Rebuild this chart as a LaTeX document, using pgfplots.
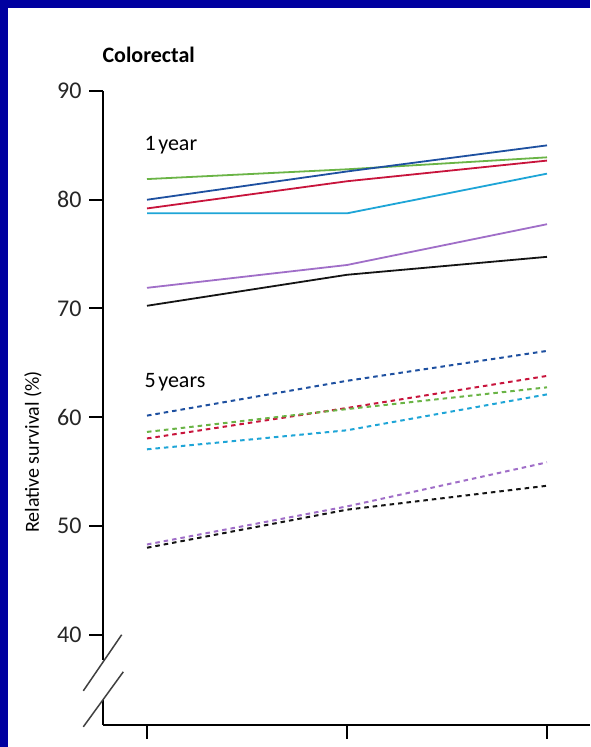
\documentclass[border=0pt]{standalone}
\usepackage{fontspec}
\setmainfont{Carlito}
\usepackage{pgfplots}
\pgfplotsset{compat=1.18}
\definecolor{bord}{RGB}{0,0,160}
\definecolor{cgreen}{RGB}{106,180,70}
\definecolor{cblue}{RGB}{30,80,160}
\definecolor{cred}{RGB}{200,20,60}
\definecolor{ccyan}{RGB}{30,165,215}
\definecolor{cpurple}{RGB}{160,110,200}
\definecolor{cblack}{RGB}{20,20,20}
\begin{document}
\begin{tikzpicture}[x=1pt,y=1pt]
\useasboundingbox (0,0) rectangle (590,747);
\fill[bord] (0,0) rectangle (590,747);
\fill[white] (8,0) rectangle (590,739);
\node[anchor=west,font=\fontsize{22}{26}\selectfont\bfseries] at (99,692) {Colorectal};
\node[rotate=90,font=\fontsize{20}{24}\selectfont] at (33,295) {Relative survival (\%)};
\begin{axis}[
 at={(103pt,22pt)}, anchor=south west, scale only axis,
 width=487pt, height=634pt,
 xmin=-0.22, xmax=2.215, ymin=31.7, ymax=90,
 axis x line=bottom, axis y line=left,
 axis line style={-},
 y axis line style={draw=none},
 x axis line style={line width=2pt},
 xtick={0,1,2}, xticklabels={},
 ytick={40,50,60,70,80,90},
 tick align=outside, major tick length=14pt,
 every tick/.style={line width=2pt, black},
 ticklabel style={font=\fontsize{24}{28}\selectfont, text=black!85},
 yticklabel style={xshift=-4pt},
 /pgf/number format/assume math mode=true,
 clip=false,
]
% 1 year (solid)
\addplot[cgreen, line width=1.8pt] coordinates {(0,81.9) (1,82.8) (2,83.9)};
\addplot[cblue, line width=1.8pt] coordinates {(0,80.0) (1,82.6) (2,85.0)};
\addplot[cred, line width=1.8pt] coordinates {(0,79.2) (1,81.7) (2,83.6)};
\addplot[ccyan, line width=1.8pt] coordinates {(0,78.75) (1,78.75) (2,82.4)};
\addplot[cpurple, line width=1.8pt] coordinates {(0,71.9) (1,74.0) (2,77.75)};
\addplot[cblack, line width=1.8pt] coordinates {(0,70.25) (1,73.1) (2,74.75)};
% 5 years (dashed)
\addplot[cblue, line width=2pt, dash pattern=on 4.5pt off 4pt] coordinates {(0,60.15) (1,63.35) (2,66.1)};
\addplot[cred, line width=2pt, dash pattern=on 4.5pt off 4pt] coordinates {(0,58.05) (1,60.85) (2,63.8)};
\addplot[cgreen, line width=2pt, dash pattern=on 4.5pt off 4pt] coordinates {(0,58.65) (1,60.75) (2,62.75)};
\addplot[ccyan, line width=2pt, dash pattern=on 4.5pt off 4pt] coordinates {(0,57.05) (1,58.8) (2,62.1)};
\addplot[cpurple, line width=2pt, dash pattern=on 4.5pt off 4pt] coordinates {(0,48.3) (1,51.8) (2,55.85)};
\addplot[cblack, line width=2pt, dash pattern=on 4.5pt off 4pt] coordinates {(0,48.0) (1,51.5) (2,53.7)};
% labels
\node[anchor=west, font=\fontsize{22}{26}\selectfont] at (axis cs:-0.03,85.0) {1\hspace{0.12em}year};
\node[anchor=west, font=\fontsize{22}{26}\selectfont] at (axis cs:-0.03,63.2) {5\hspace{0.12em}years};
% y axis with break
\draw[line width=2pt, black] (axis cs:-0.22,90) -- (axis cs:-0.22,37.65);
\draw[line width=2pt, black] (axis cs:-0.22,33.97) -- (axis cs:-0.22,31.7);
\draw[line width=1.5pt, black!75] (axis cs:-0.3185,34.84) -- (axis cs:-0.1265,40.0);
\draw[line width=1.5pt, black!75] (axis cs:-0.3185,31.53) -- (axis cs:-0.1185,36.59);
\end{axis}
\end{tikzpicture}
\end{document}
